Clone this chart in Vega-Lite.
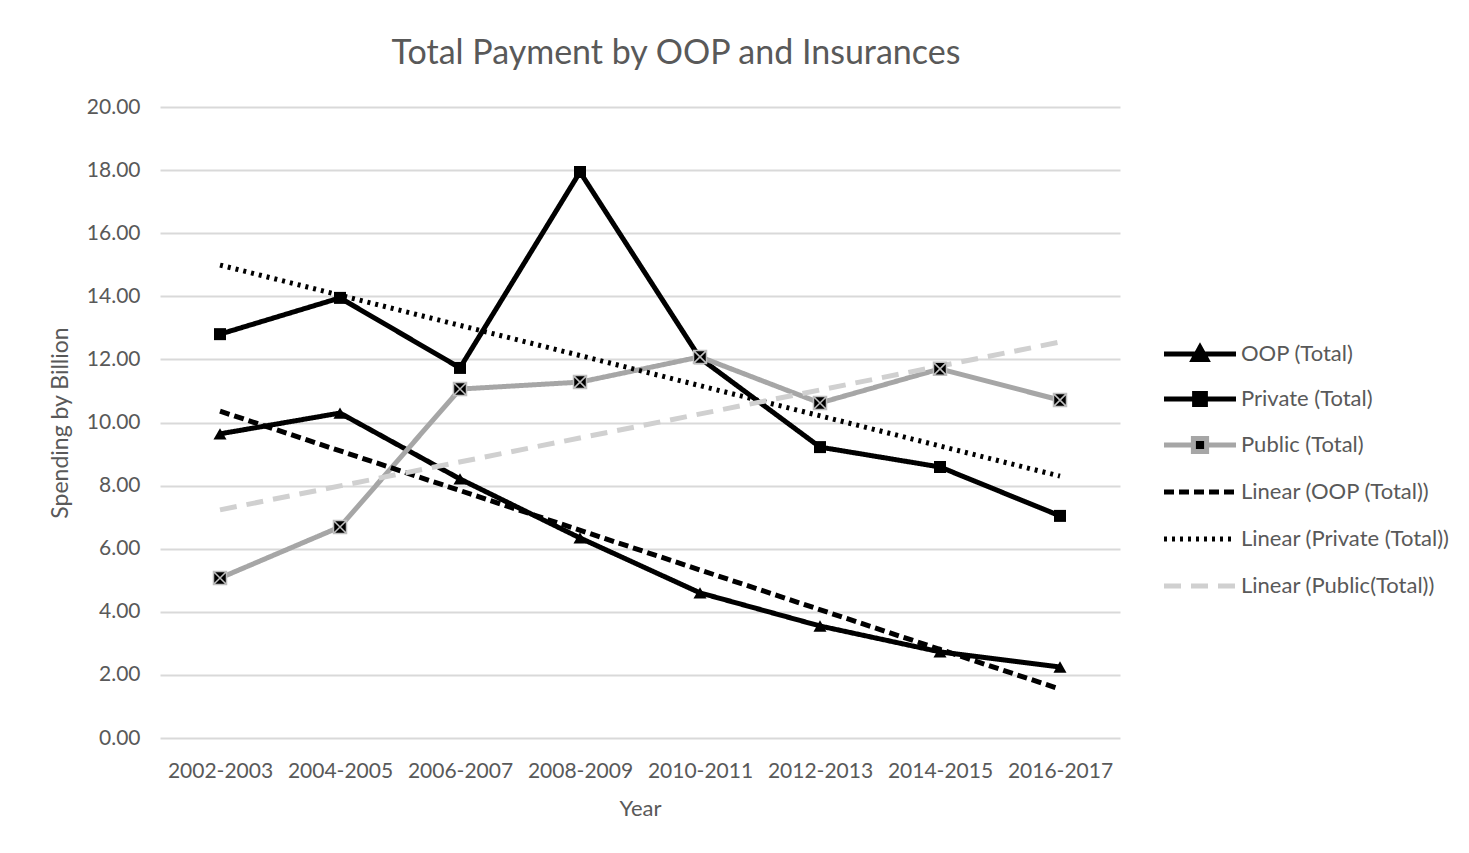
{
  "$schema": "https://vega.github.io/schema/vega-lite/v6.json",
  "autosize": "none",
  "padding": {"left": 160, "top": 107, "right": 349, "bottom": 115},
  "width": 960,
  "height": 631,
  "background": "white",
  "config": {
    "font": "Lato",
    "view": {"stroke": null},
    "axis": {"labelColor": "#595959", "titleColor": "#595959", "labelFont": "Lato", "titleFont": "Lato", "titleFontWeight": "normal"}
  },
  "title": {
    "text": "Total Payment by OOP and Insurances",
    "fontSize": 34,
    "font": "Lato",
    "fontWeight": "normal",
    "color": "#595959",
    "anchor": "middle",
    "dx": 36,
    "offset": 25
  },
  "data": {
    "values": [
      {"year": "2002-2003", "series": "OOP (Total)", "value": 9.64},
      {"year": "2004-2005", "series": "OOP (Total)", "value": 10.30},
      {"year": "2006-2007", "series": "OOP (Total)", "value": 8.21},
      {"year": "2008-2009", "series": "OOP (Total)", "value": 6.34},
      {"year": "2010-2011", "series": "OOP (Total)", "value": 4.60},
      {"year": "2012-2013", "series": "OOP (Total)", "value": 3.55},
      {"year": "2014-2015", "series": "OOP (Total)", "value": 2.73},
      {"year": "2016-2017", "series": "OOP (Total)", "value": 2.25},
      {"year": "2002-2003", "series": "Private (Total)", "value": 12.80},
      {"year": "2004-2005", "series": "Private (Total)", "value": 13.95},
      {"year": "2006-2007", "series": "Private (Total)", "value": 11.73},
      {"year": "2008-2009", "series": "Private (Total)", "value": 17.94},
      {"year": "2010-2011", "series": "Private (Total)", "value": 12.04},
      {"year": "2012-2013", "series": "Private (Total)", "value": 9.22},
      {"year": "2014-2015", "series": "Private (Total)", "value": 8.59},
      {"year": "2016-2017", "series": "Private (Total)", "value": 7.04},
      {"year": "2002-2003", "series": "Public (Total)", "value": 5.07},
      {"year": "2004-2005", "series": "Public (Total)", "value": 6.69},
      {"year": "2006-2007", "series": "Public (Total)", "value": 11.06},
      {"year": "2008-2009", "series": "Public (Total)", "value": 11.28},
      {"year": "2010-2011", "series": "Public (Total)", "value": 12.08},
      {"year": "2012-2013", "series": "Public (Total)", "value": 10.62},
      {"year": "2014-2015", "series": "Public (Total)", "value": 11.70},
      {"year": "2016-2017", "series": "Public (Total)", "value": 10.71},
      {"year": "2002-2003", "series": "Linear (OOP (Total))", "value": 10.36},
      {"year": "2016-2017", "series": "Linear (OOP (Total))", "value": 1.55},
      {"year": "2002-2003", "series": "Linear (Private (Total))", "value": 14.99},
      {"year": "2016-2017", "series": "Linear (Private (Total))", "value": 8.30},
      {"year": "2002-2003", "series": "Linear (Public(Total))", "value": 7.23},
      {"year": "2016-2017", "series": "Linear (Public(Total))", "value": 12.55}
    ]
  },
  "encoding": {
    "x": {
      "field": "year",
      "type": "nominal",
      "sort": null,
      "scale": {"type": "point", "padding": 0.5},
      "axis": {"title": "Year", "labelAngle": 0, "labelFontSize": 21, "titleFontSize": 22, "ticks": false, "domain": false, "labelPadding": 22, "titlePadding": 17, "grid": false}
    },
    "y": {
      "field": "value",
      "type": "quantitative",
      "scale": {"domain": [0, 20], "nice": false},
      "axis": {"title": "Spending by Billion", "values": [0, 2, 4, 6, 8, 10, 12, 14, 16, 18, 20], "format": ".2f", "labelFontSize": 21, "titleFontSize": 23, "ticks": false, "domain": false, "labelPadding": 20, "titlePadding": 14, "gridColor": "#d9d9d9", "gridWidth": 2}
    }
  },
  "layer": [
    {
      "mark": {"type": "line", "strokeCap": "butt", "strokeJoin": "miter"},
      "encoding": {
        "color": {
          "field": "series",
          "type": "nominal",
          "scale": {
            "domain": ["OOP (Total)", "Private (Total)", "Public (Total)", "Linear (OOP (Total))", "Linear (Private (Total))", "Linear (Public(Total))"],
            "range": ["#000000", "#000000", "#a6a6a6", "#000000", "#000000", "#d0d0d0"]
          },
          "legend": {
            "title": null,
            "orient": "none",
            "legendX": 999,
            "legendY": 236,
            "symbolSize": 144,
            "symbolStrokeWidth": 4,
            "labelFontSize": 22,
            "labelFont": "Lato",
            "labelColor": "#595959",
            "labelOffset": 60,
            "labelLimit": 400,
            "rowPadding": 13,
            "encode": {
              "symbols": {
                "update": {
                  "shape": {"signal": "datum.value === 'OOP (Total)' ? 'M-1,0H11M3.9,0.9L5,-1.1L6.1,0.9Z' : datum.value === 'Private (Total)' ? 'M-1,0H11M4.1,-0.9H5.9V0.9H4.1Z' : datum.value === 'Public (Total)' ? 'M-1,0H4M6,0H11M3.9,-1.1H6.1V1.1H3.9Z' : 'M-1,0H11M5,-1.1M5,1.1'"},
                  "fill": {"signal": "indexof(['OOP (Total)','Private (Total)','Public (Total)'], datum.value) >= 0 ? '#000000' : 'transparent'"},
                  "strokeDash": {"signal": "datum.value === 'Linear (OOP (Total))' ? [10,5] : datum.value === 'Linear (Private (Total))' ? [3,5] : datum.value === 'Linear (Public(Total))' ? [16,10] : []"},
                  "strokeWidth": {"signal": "datum.value === 'Public (Total)' ? 4 : indexof(['OOP (Total)','Private (Total)'], datum.value) >= 0 ? 5 : 3"}
                }
              }
            }
          }
        },
        "strokeDash": {
          "field": "series",
          "type": "nominal",
          "scale": {
            "domain": ["OOP (Total)", "Private (Total)", "Public (Total)", "Linear (OOP (Total))", "Linear (Private (Total))", "Linear (Public(Total))"],
            "range": [[1, 0], [1, 0], [1, 0], [10, 5], [3, 5], [17, 10]]
          },
          "legend": null
        },
        "strokeWidth": {
          "field": "series",
          "type": "nominal",
          "scale": {
            "domain": ["OOP (Total)", "Private (Total)", "Public (Total)", "Linear (OOP (Total))", "Linear (Private (Total))", "Linear (Public(Total))"],
            "range": [5, 5, 5, 2.5, 3, 4]
          },
          "legend": null
        }
      }
    },
    {
      "transform": [{"filter": "datum.series === 'OOP (Total)'"}],
      "mark": {"type": "point", "shape": "triangle-up", "filled": true, "color": "#000000", "size": 170, "opacity": 1}
    },
    {
      "transform": [{"filter": "datum.series === 'Private (Total)'"}],
      "mark": {"type": "point", "shape": "square", "filled": true, "color": "#000000", "size": 144, "opacity": 1}
    },
    {
      "transform": [{"filter": "datum.series === 'Public (Total)'"}],
      "mark": {"type": "point", "shape": "M-1,-1H1V1H-1ZM-1,-1L1,1M1,-1L-1,1", "fill": "#000000", "stroke": "#bfbfbf", "strokeWidth": 1.5, "size": 169, "opacity": 1, "fillOpacity": 1}
    }
  ]
}
